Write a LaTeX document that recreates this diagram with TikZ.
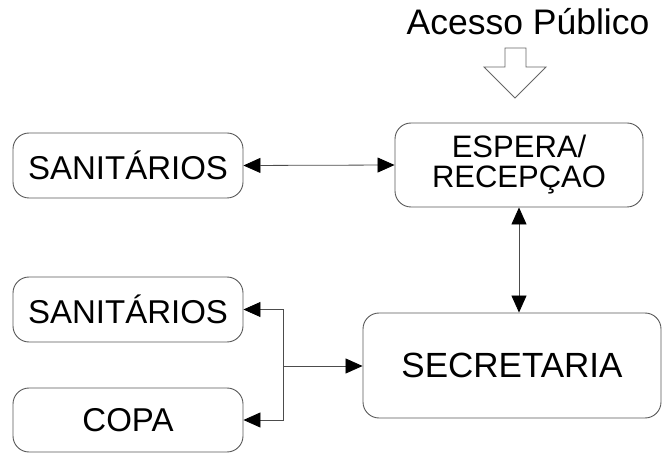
\documentclass[tikz,border=0pt]{standalone}
\usepackage{fontspec}
\setmainfont{Liberation Sans}
\usetikzlibrary{arrows.meta}
\begin{document}
\begin{tikzpicture}[x=1pt,y=-1pt,
  roombox/.style={draw=black!65, line width=0.9pt, rounded corners=16pt, inner sep=0pt, align=center},
  conn/.style={draw=black!70, line width=0.8pt},
  hd/.tip={Triangle[length=17pt,width=15pt,fill=black,color=black]},
  tip/.style={-hd},
  bigtxt/.style={font=\fontsize{33}{38}\selectfont},
]
\useasboundingbox (0,0) rectangle (664,454);
\node[font=\fontsize{35.5}{40}\selectfont, anchor=base, inner sep=0pt] (pub) at (528,35) {Acesso Público};
\draw[draw=black!60, line width=0.9pt, fill=white] (505,48) -- (526,48) -- (526,67) -- (546,67) -- (515,98) -- (484,67) -- (505,67) -- cycle;
\node[roombox, bigtxt, minimum width=230pt, minimum height=65pt] (san1) at (128,165.5) {SANITÁRIOS};
\node[roombox, font=\fontsize{31}{30}\selectfont, minimum width=248pt, minimum height=84pt] (esp) at (519,165) {ESPERA/\\RECEPÇAO};
\node[roombox, bigtxt, minimum width=230pt, minimum height=65pt] (san2) at (128,309.5) {SANITÁRIOS};
\node[roombox, bigtxt, minimum width=230pt, minimum height=64pt] (copa) at (128,420) {COPA};
\node[roombox, font=\fontsize{35}{40}\selectfont, minimum width=298pt, minimum height=105pt] (sec) at (512,365.5) {SECRETARIA};
\draw[conn, hd-hd] (san1.east) -- (esp.west);
\draw[conn, hd-hd] (esp.south) -- (esp.south |- sec.north);
\coordinate (j) at (283,366);
\draw[conn, tip] (j) -- (j -| sec.west);
\draw[conn, tip] (j) |- (san2.east);
\draw[conn, tip] (j) |- (copa.east);
\end{tikzpicture}
\end{document}
